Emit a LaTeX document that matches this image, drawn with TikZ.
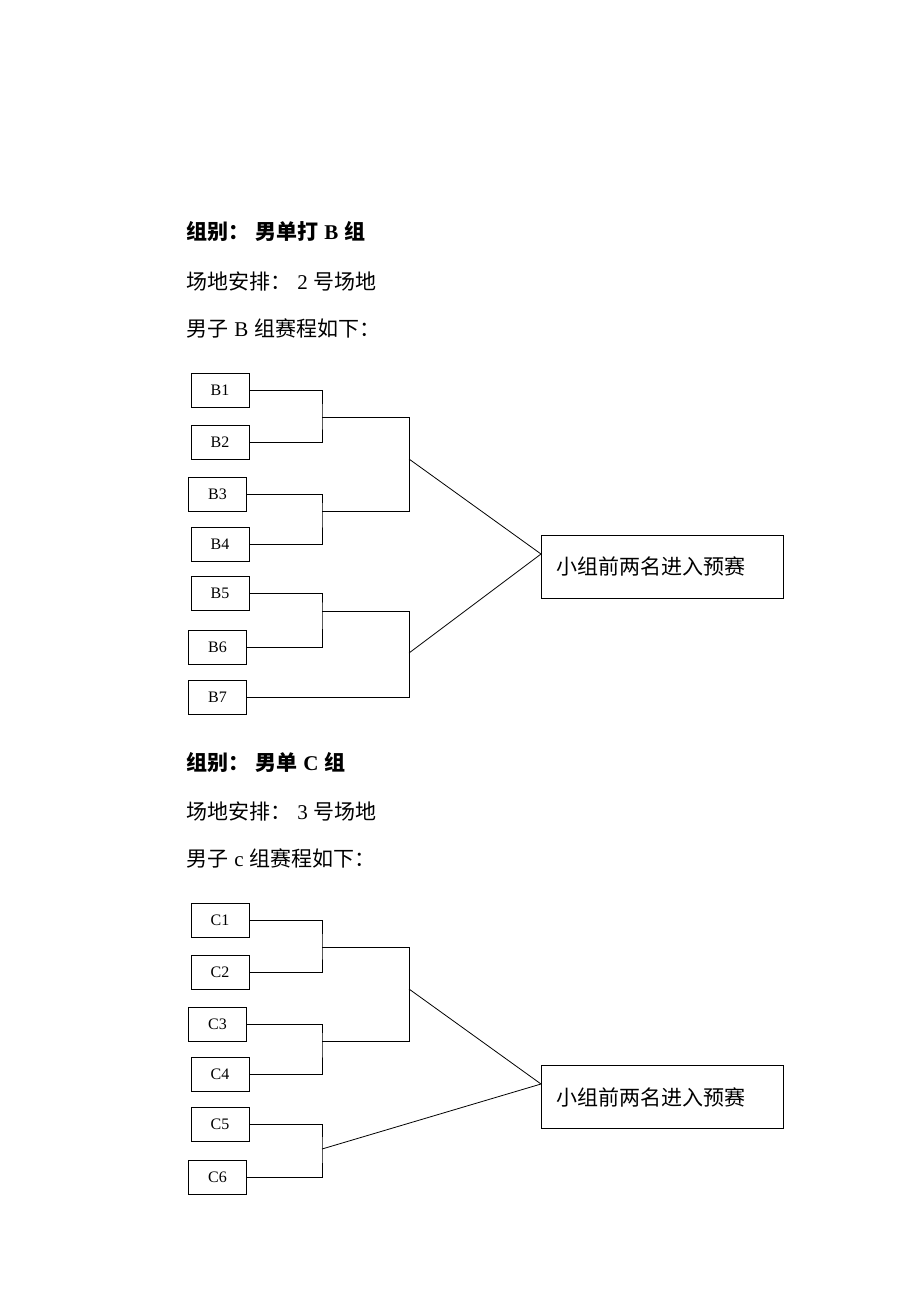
\documentclass[tikz,border=0pt]{standalone}
\usepackage{fontspec}
\setmainfont{Liberation Serif}
\newfontfamily\cjk{Noto Sans CJK SC}
\newcommand{\gp}{\hspace{6pt}}
\begin{document}
\begin{tikzpicture}[x=1pt,y=-1pt,line width=0.8pt,
  pbox/.style={draw,rectangle,minimum width=58pt,minimum height=34pt,inner sep=0pt,font=\fontsize{16}{19}\selectfont},
  qbox/.style={draw,rectangle,minimum height=63pt,text width=212pt,inner xsep=15pt,inner ysep=0pt,align=left,font=\fontsize{21}{25}\cjk},
  htext/.style={anchor=west,inner sep=0pt,font=\fontsize{21}{25}\selectfont},
  wire/.style={draw,line width=0.8pt}]
\useasboundingbox (0,0) rectangle (920,1302);

% ---------- Group B ----------
\node[htext] (hb1) at (186,232) {{\cjk\bfseries 组别：\gp 男单打}\gp\textbf{B}\gp{\cjk\bfseries 组}};
\node[htext] (hb2) at (186,281) {{\cjk 场地安排：}\gp 2\gp{\cjk 号场地}};
\node[htext] (hb3) at (186,328) {{\cjk 男子}\gp B\gp{\cjk 组赛程如下：}};

\node[pbox] (B1) at (220,390) {B1};
\node[pbox] (B2) at (220,442) {B2};
\node[pbox] (B3) at (217.5,494.5) {B3};
\node[pbox] (B4) at (220,544) {B4};
\node[pbox] (B5) at (220,593.5) {B5};
\node[pbox] (B6) at (217.5,647.5) {B6};
\node[pbox] (B7) at (217.5,697.5) {B7};
\node[qbox] (P1) at (662,566.5) {小组前两名进入预赛};

\coordinate (b12) at (322,417);
\coordinate (b34) at (322,511);
\coordinate (b56) at (322,611);
\coordinate (bu) at (409,459);
\coordinate (bl) at (409,653);
\coordinate (m1) at (541,554);

\draw[wire] (B1.east) -| (b12) |- (B2.east);
\draw[wire] (B3.east) -| (b34) |- (B4.east);
\draw[wire] (B5.east) -| (b56) |- (B6.east);
\draw[wire] (b12) -- (409,417) -- (409,511) -- (b34);
\draw[wire] (b56) -- (409,611) |- (B7.east);
\draw[wire] (bu) -- (m1) -- (bl);

% ---------- Group C ----------
\node[htext] (hc1) at (186,762) {{\cjk\bfseries 组别：\gp 男单}\gp\textbf{C}\gp{\cjk\bfseries 组}};
\node[htext] (hc2) at (186,811) {{\cjk 场地安排：}\gp 3\gp{\cjk 号场地}};
\node[htext] (hc3) at (186,858) {{\cjk 男子}\gp c\gp{\cjk 组赛程如下：}};

\node[pbox] (C1) at (220,920) {C1};
\node[pbox] (C2) at (220,972.5) {C2};
\node[pbox] (C3) at (217.5,1024.5) {C3};
\node[pbox] (C4) at (220,1074) {C4};
\node[pbox] (C5) at (220,1124) {C5};
\node[pbox] (C6) at (217.5,1177.5) {C6};
\node[qbox] (P2) at (662,1097) {小组前两名进入预赛};

\coordinate (c12) at (322,947);
\coordinate (c34) at (322,1041);
\coordinate (cu) at (409,989);
\coordinate (c56) at (322,1149);
\coordinate (m2) at (541,1084);

\draw[wire] (C1.east) -| (c12) |- (C2.east);
\draw[wire] (C3.east) -| (c34) |- (C4.east);
\draw[wire] (C5.east) -| (c56) |- (C6.east);
\draw[wire] (c12) -- (409,947) -- (409,1041) -- (c34);
\draw[wire] (cu) -- (m2) -- (c56);
\end{tikzpicture}
\end{document}
